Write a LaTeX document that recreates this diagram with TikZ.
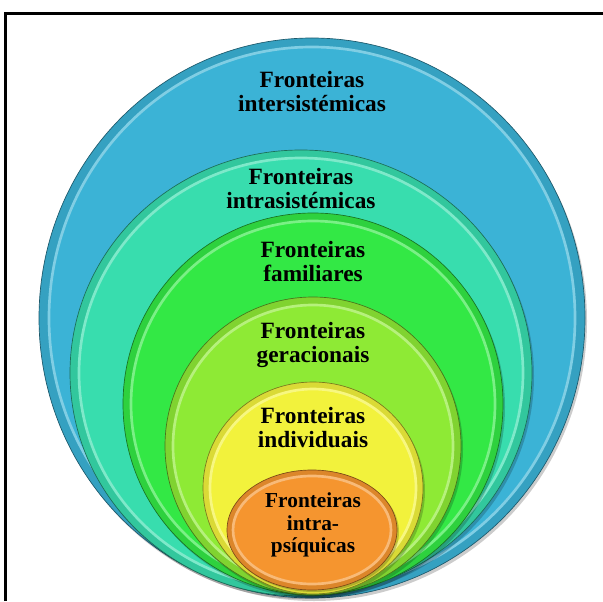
\documentclass[tikz,border=0pt]{standalone}
\usepackage{fontspec}
\setmainfont{Liberation Serif}
\usepackage{xcolor}
\usepackage{tikz}

\definecolor{interBlue}{HTML}{3BB3D6}
\definecolor{intraTeal}{HTML}{38DDAE}
\definecolor{familyGreen}{HTML}{33E845}
\definecolor{geraLime}{HTML}{8EEA35}
\definecolor{indivYellow}{HTML}{F2F23C}
\definecolor{psiqOrange}{HTML}{F5952F}

\begin{document}
\begin{tikzpicture}[x=0.75pt, y=0.75pt,
  lbl/.style={font=\bfseries\fontsize{17.5}{18}\selectfont, align=center, text=black},
  ring/.style={fill=#1!90!black, draw=#1!50!black, line width=0.5pt},
  core/.style={fill=#1, draw=#1!65!white, line width=2pt},
  shade/.style={fill=black, opacity=0.2}]

\useasboundingbox (0,0) rectangle (603,601);

% frame
\draw[line width=2.25pt] (5.5,0) -- (5.5,587.5) -- (603,587.5);

% rings, outside in
\fill[shade] (314,280) ellipse [x radius=273, y radius=280];
\filldraw[ring=interBlue] (312,283) ellipse [x radius=273, y radius=280];
\filldraw[core=interBlue] (312,283) ellipse [x radius=263, y radius=271];

\fill[shade] (303,225) ellipse [x radius=231, y radius=223];
\filldraw[ring=intraTeal] (301,228) ellipse [x radius=231, y radius=223];
\filldraw[core=intraTeal] (301,228) ellipse [x radius=222, y radius=215];

\fill[shade] (315,194) ellipse [x radius=190, y radius=191];
\filldraw[ring=familyGreen] (313,197) ellipse [x radius=190, y radius=191];
\filldraw[core=familyGreen] (313,197) ellipse [x radius=182, y radius=183];

\fill[shade] (315,152) ellipse [x radius=148, y radius=149];
\filldraw[ring=geraLime] (313,155) ellipse [x radius=148, y radius=149];
\filldraw[core=geraLime] (313,155) ellipse [x radius=140, y radius=141];

\fill[shade] (315,110) ellipse [x radius=110, y radius=106];
\filldraw[ring=indivYellow] (313,113) ellipse [x radius=110, y radius=106];
\filldraw[core=indivYellow] (313,113) ellipse [x radius=103, y radius=99];

\fill[shade] (314,69) ellipse [x radius=85, y radius=60];
\filldraw[ring=psiqOrange] (312,71) ellipse [x radius=85, y radius=60];
\filldraw[core=psiqOrange] (312,71) ellipse [x radius=79, y radius=54];

% labels
\node (inter) [lbl] at (312,509) {Fronteiras\\intersistémicas};
\node (intra) [lbl] at (301,412.5) {Fronteiras\\intrasistémicas};
\node (familia) [lbl] at (313,339.5) {Fronteiras\\familiares};
\node (gera) [lbl] at (313,256) {Fronteiras\\geracionais};
\node (indiv) [lbl] at (313,173) {Fronteiras\\individuais};
\node (psiq) [lbl, font=\bfseries\fontsize{16}{17}\selectfont] at (313,76) {Fronteiras\\intra-\\psíquicas};
\end{tikzpicture}
\end{document}
